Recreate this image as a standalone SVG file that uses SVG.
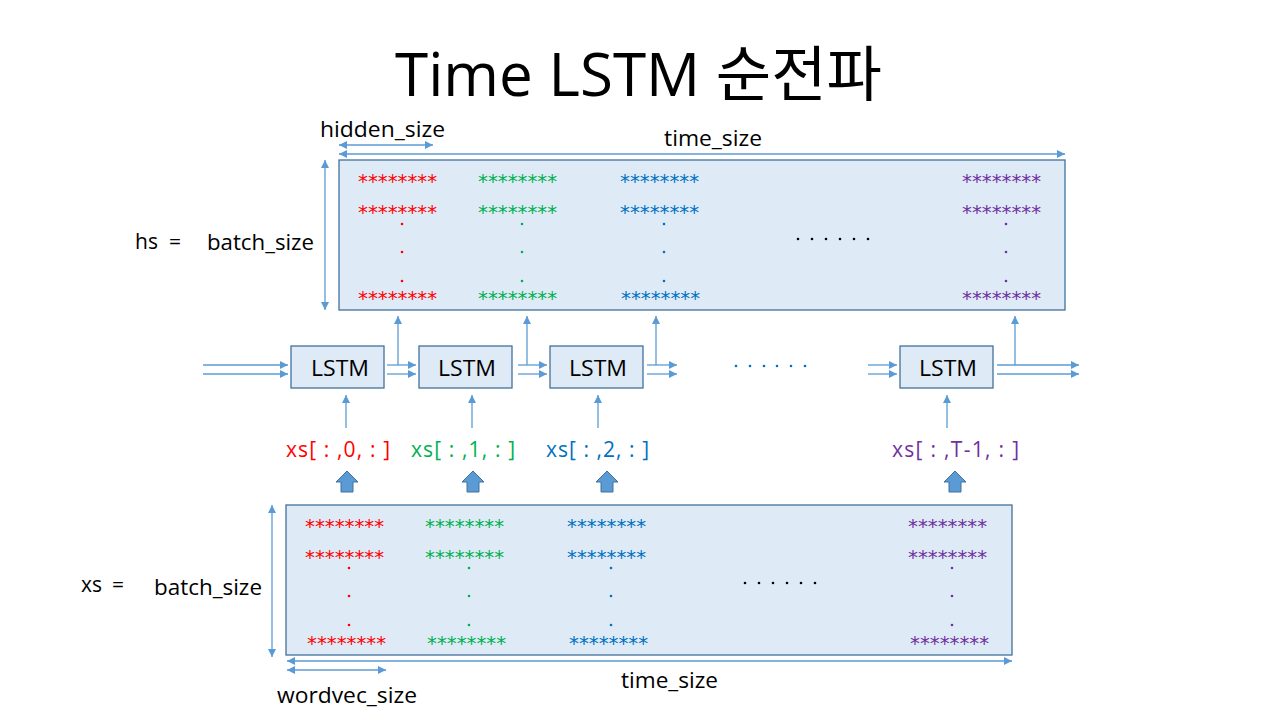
<svg xmlns="http://www.w3.org/2000/svg" width="1280" height="720" viewBox="0 0 1280 720">
<defs>
<marker id="ah" viewBox="0 0 10 10" refX="10" refY="5" markerWidth="9" markerHeight="8" markerUnits="userSpaceOnUse" orient="auto-start-reverse">
<path d="M0,0 L10,5 L0,10 z" fill="#5B9BD5"/>
</marker>
<style>
.t{font-family:"Open Sans","Noto Sans CJK KR",sans-serif;fill:#000}
.box{fill:#DEEBF7;stroke:#41719C;stroke-width:1.3}
.ln{stroke:#5B9BD5;stroke-width:1.3;fill:none}
.a{marker-end:url(#ah)}
.d{marker-start:url(#ah);marker-end:url(#ah)}
.st{font-family:"DejaVu Sans",sans-serif;font-size:19px}
.r{fill:#FF0000}.g{fill:#00B050}.b{fill:#0070C0}.p{fill:#7030A0}
.blk{fill:#5B9BD5;stroke:#41719C;stroke-width:1}
</style>
</defs>
<rect width="1280" height="720" fill="#fff"/>
<text class="t" x="395" y="96" font-size="60" textLength="487" lengthAdjust="spacingAndGlyphs">Time LSTM 순전파</text>

<g id="hs">
<rect class="box" x="339" y="160" width="726" height="150"/>
<g class="st">
<text class="r" x="358" y="188" textLength="79" lengthAdjust="spacingAndGlyphs">********</text>
<text class="r" x="358" y="219" textLength="79" lengthAdjust="spacingAndGlyphs">********</text>
<text class="r" x="358" y="305" textLength="79" lengthAdjust="spacingAndGlyphs">********</text>
<text class="g" x="478" y="188" textLength="79" lengthAdjust="spacingAndGlyphs">********</text>
<text class="g" x="478" y="219" textLength="79" lengthAdjust="spacingAndGlyphs">********</text>
<text class="g" x="478" y="305" textLength="79" lengthAdjust="spacingAndGlyphs">********</text>
<text class="b" x="620" y="188" textLength="79" lengthAdjust="spacingAndGlyphs">********</text>
<text class="b" x="620" y="219" textLength="79" lengthAdjust="spacingAndGlyphs">********</text>
<text class="b" x="621" y="305" textLength="79" lengthAdjust="spacingAndGlyphs">********</text>
<text class="p" x="962" y="188" textLength="79" lengthAdjust="spacingAndGlyphs">********</text>
<text class="p" x="962" y="219" textLength="79" lengthAdjust="spacingAndGlyphs">********</text>
<text class="p" x="962" y="305" textLength="79" lengthAdjust="spacingAndGlyphs">********</text>
</g>
<g>
<circle class="r" cx="402" cy="224" r="1.3"/><circle class="r" cx="402" cy="252" r="1.3"/><circle class="r" cx="402" cy="281" r="1.3"/>
<circle class="g" cx="522" cy="224" r="1.3"/><circle class="g" cx="522" cy="252" r="1.3"/><circle class="g" cx="522" cy="281" r="1.3"/>
<circle class="b" cx="664" cy="224" r="1.3"/><circle class="b" cx="664" cy="252" r="1.3"/><circle class="b" cx="664" cy="281" r="1.3"/>
<circle class="p" cx="1006" cy="224" r="1.3"/><circle class="p" cx="1006" cy="252" r="1.3"/><circle class="p" cx="1006" cy="281" r="1.3"/>
<g fill="#000"><circle cx="798" cy="239" r="1.3"/><circle cx="812" cy="239" r="1.3"/><circle cx="826" cy="239" r="1.3"/><circle cx="840" cy="239" r="1.3"/><circle cx="854" cy="239" r="1.3"/><circle cx="868" cy="239" r="1.3"/></g>
</g>
</g>

<g id="xs">
<rect class="box" x="286" y="505" width="726" height="150"/>
<g class="st">
<text class="r" x="305" y="533" textLength="79" lengthAdjust="spacingAndGlyphs">********</text>
<text class="r" x="305" y="564" textLength="79" lengthAdjust="spacingAndGlyphs">********</text>
<text class="r" x="307" y="650" textLength="79" lengthAdjust="spacingAndGlyphs">********</text>
<text class="g" x="425" y="533" textLength="79" lengthAdjust="spacingAndGlyphs">********</text>
<text class="g" x="425" y="564" textLength="79" lengthAdjust="spacingAndGlyphs">********</text>
<text class="g" x="427" y="650" textLength="79" lengthAdjust="spacingAndGlyphs">********</text>
<text class="b" x="567" y="533" textLength="79" lengthAdjust="spacingAndGlyphs">********</text>
<text class="b" x="567" y="564" textLength="79" lengthAdjust="spacingAndGlyphs">********</text>
<text class="b" x="569" y="650" textLength="79" lengthAdjust="spacingAndGlyphs">********</text>
<text class="p" x="908" y="533" textLength="79" lengthAdjust="spacingAndGlyphs">********</text>
<text class="p" x="908" y="564" textLength="79" lengthAdjust="spacingAndGlyphs">********</text>
<text class="p" x="910" y="650" textLength="79" lengthAdjust="spacingAndGlyphs">********</text>
</g>
<circle class="r" cx="349" cy="568" r="1.3"/><circle class="r" cx="349" cy="596" r="1.3"/><circle class="r" cx="349" cy="625" r="1.3"/>
<circle class="g" cx="469" cy="568" r="1.3"/><circle class="g" cx="469" cy="596" r="1.3"/><circle class="g" cx="469" cy="625" r="1.3"/>
<circle class="b" cx="611" cy="568" r="1.3"/><circle class="b" cx="611" cy="596" r="1.3"/><circle class="b" cx="611" cy="625" r="1.3"/>
<circle class="p" cx="952" cy="568" r="1.3"/><circle class="p" cx="952" cy="596" r="1.3"/><circle class="p" cx="952" cy="625" r="1.3"/>
<g fill="#000"><circle cx="745" cy="583" r="1.3"/><circle cx="759" cy="583" r="1.3"/><circle cx="773" cy="583" r="1.3"/><circle cx="787" cy="583" r="1.3"/><circle cx="801" cy="583" r="1.3"/><circle cx="815" cy="583" r="1.3"/></g>
</g>

<g id="labels">
<text class="t" x="320" y="137" font-size="21" textLength="125" lengthAdjust="spacingAndGlyphs">hidden_size</text>
<text class="t" x="664" y="146" font-size="21" textLength="98" lengthAdjust="spacingAndGlyphs">time_size</text>
<text class="t" x="135" y="249" font-size="21">hs</text>
<text class="t" x="169" y="249" font-size="21">=</text>
<text class="t" x="207" y="250" font-size="21" textLength="107" lengthAdjust="spacingAndGlyphs">batch_size</text>
<text class="t" x="81" y="592" font-size="21">xs</text>
<text class="t" x="112" y="592" font-size="21">=</text>
<text class="t" x="154" y="595" font-size="21" textLength="108" lengthAdjust="spacingAndGlyphs">batch_size</text>
<text class="t" x="621" y="688" font-size="21" textLength="97" lengthAdjust="spacingAndGlyphs">time_size</text>
<text class="t" x="277" y="703" font-size="21" textLength="140" lengthAdjust="spacingAndGlyphs">wordvec_size</text>
<g fill="#0070C0"><circle cx="736" cy="366" r="1.3"/><circle cx="750" cy="366" r="1.3"/><circle cx="764" cy="366" r="1.3"/><circle cx="777" cy="366" r="1.3"/><circle cx="791" cy="366" r="1.3"/><circle cx="805" cy="366" r="1.3"/></g>
</g>

<g id="lstm0"><rect class="box" x="291" y="346" width="93" height="42"/><text class="t" x="311" y="376" font-size="22" textLength="58" lengthAdjust="spacingAndGlyphs">LSTM</text></g>
<g id="lstm1"><rect class="box" x="419" y="346" width="93" height="42"/><text class="t" x="438" y="376" font-size="22" textLength="58" lengthAdjust="spacingAndGlyphs">LSTM</text></g>
<g id="lstm2"><rect class="box" x="550" y="346" width="93" height="42"/><text class="t" x="569" y="376" font-size="22" textLength="58" lengthAdjust="spacingAndGlyphs">LSTM</text></g>
<g id="lstm3"><rect class="box" x="900" y="346" width="93" height="42"/><text class="t" x="919" y="376" font-size="22" textLength="58" lengthAdjust="spacingAndGlyphs">LSTM</text></g>

<g id="in0"><text x="286" y="457" font-size="21" class="t" textLength="104" style="fill:#FF0000">xs[ : ,0, : ]</text></g>
<g id="in1"><text x="411" y="457" font-size="21" class="t" textLength="104" style="fill:#00B050">xs[ : ,1, : ]</text></g>
<g id="in2"><text x="546" y="457" font-size="21" class="t" textLength="103" style="fill:#0070C0">xs[ : ,2, : ]</text></g>
<g id="in3"><text x="892" y="457" font-size="21" class="t" textLength="127" style="fill:#7030A0">xs[ : ,T-1, : ]</text></g>

<g id="connectors">
<line class="ln d" x1="339" y1="145" x2="433" y2="145"/>
<line class="ln d" x1="339" y1="154" x2="1065" y2="154"/>
<line class="ln d" x1="325" y1="160" x2="325" y2="310"/>
<line class="ln d" x1="272" y1="505" x2="272" y2="657"/>
<line class="ln d" x1="287" y1="661" x2="1012" y2="661"/>
<line class="ln d" x1="287" y1="670" x2="386" y2="670"/>

<line class="ln a" x1="203" y1="365" x2="288" y2="365"/>
<line class="ln a" x1="203" y1="374" x2="288" y2="374"/>
<line class="ln a" x1="387" y1="365" x2="416" y2="365"/>
<line class="ln a" x1="387" y1="374" x2="416" y2="374"/>
<line class="ln a" x1="518" y1="365" x2="547" y2="365"/>
<line class="ln a" x1="518" y1="374" x2="547" y2="374"/>
<line class="ln a" x1="647" y1="365" x2="677" y2="365"/>
<line class="ln a" x1="647" y1="374" x2="677" y2="374"/>
<line class="ln a" x1="868" y1="365" x2="897" y2="365"/>
<line class="ln a" x1="868" y1="374" x2="897" y2="374"/>
<line class="ln a" x1="997" y1="365" x2="1079" y2="365"/>
<line class="ln a" x1="997" y1="374" x2="1079" y2="374"/>

<line class="ln a" x1="398" y1="365" x2="398" y2="316"/>
<line class="ln a" x1="527" y1="365" x2="527" y2="316"/>
<line class="ln a" x1="656" y1="365" x2="656" y2="316"/>
<line class="ln a" x1="1015" y1="365" x2="1015" y2="316"/>

<line class="ln a" x1="346" y1="428" x2="346" y2="395"/>
<line class="ln a" x1="472" y1="428" x2="472" y2="395"/>
<line class="ln a" x1="598" y1="428" x2="598" y2="395"/>
<line class="ln a" x1="947" y1="428" x2="947" y2="395"/>

<path class="blk" d="M347,471 L358,482 L353,482 L353,492 L341,492 L341,482 L336,482 z"/>
<path class="blk" d="M473,471 L484,482 L479,482 L479,492 L467,492 L467,482 L462,482 z"/>
<path class="blk" d="M607,471 L618,482 L613,482 L613,492 L601,492 L601,482 L596,482 z"/>
<path class="blk" d="M955,471 L966,482 L961,482 L961,492 L949,492 L949,482 L944,482 z"/>
</g>
</svg>
